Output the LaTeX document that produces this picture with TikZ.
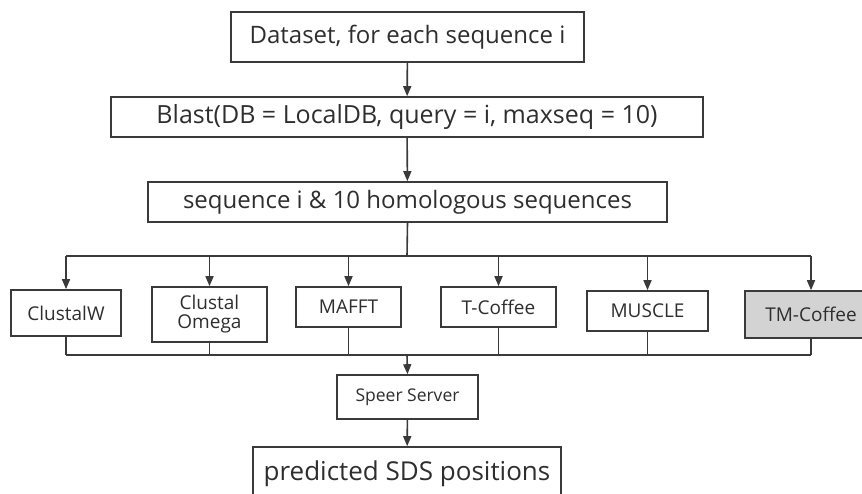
\documentclass[tikz,border=0pt]{standalone}
\usepackage{fontspec}
\setmainfont{Open Sans}
\usetikzlibrary{arrows.meta}
\definecolor{ln}{HTML}{3A3A3A}
\definecolor{tx}{HTML}{2E2E2E}
\definecolor{gr}{HTML}{D3D3D3}
\begin{document}
\begin{tikzpicture}[x=1pt,y=-1pt,
  box/.style={draw=ln,line width=1.6pt,rectangle,inner sep=0pt,text=tx,align=center},
  big/.style={box,font=\fontsize{24}{28}\selectfont},
  mod/.style={box,font=\fontsize{19}{22}\selectfont},
  conn/.style={draw=ln,line width=1.6pt},
  arr/.style={conn,-{Triangle[length=10pt,width=8pt]}}]
\useasboundingbox (0,0) rectangle (862,494);
\clip (0,0) rectangle (862,494);
\node[big,minimum width=353pt,minimum height=50pt] (ds) at (407.5,37) {Dataset, for each sequence i};
\node[big,font=\fontsize{25}{28}\selectfont,minimum width=592pt,minimum height=40pt] (bl) at (407,117) {Blast(DB = LocalDB, query = i, maxseq = 10)};
\node[big,minimum width=519pt,minimum height=40pt] (sq) at (407.5,202) {sequence i \& 10 homologous sequences};
\node[mod,minimum width=110pt,minimum height=46pt] (cw) at (66,313) {ClustalW};
\node[mod,minimum width=115pt,minimum height=55pt] (co) at (209.5,314.5) {Clustal\\[-3pt]Omega};
\node[mod,minimum width=105pt,minimum height=40pt] (ma) at (348.5,307) {MAFFT};
\node[mod,minimum width=115pt,minimum height=40pt] (tc) at (498.5,307) {T-Coffee};
\node[mod,minimum width=121pt,minimum height=40pt] (mu) at (647.5,311) {MUSCLE};
\node[mod,fill=gr,minimum width=132pt,minimum height=47pt] (tm) at (811,314.5) {TM-Coffee};
\node[box,font=\fontsize{17.5}{20}\selectfont,minimum width=141pt,minimum height=44pt] (sp) at (407.5,397) {Speer Server};
\node[box,font=\fontsize{26}{30}\selectfont,minimum width=308pt,minimum height=54pt] (pr) at (407,474) {predicted SDS positions};
\coordinate (tb) at (407,256);
\coordinate (bb) at (407,355);
\draw[arr] (ds) -- (bl);
\draw[arr] (bl) -- (sq);
\draw[conn] (sq.south) -- (tb);
\draw[conn] (cw.north |- tb) -- (tm.north |- tb);
\foreach \n in {cw,co,ma,tc,mu,tm}{
  \draw[arr] (\n.north |- tb) -- (\n.north);
  \draw[conn] (\n.south) -- (\n.south |- bb);
}
\draw[conn] (cw.south |- bb) -- (tm.south |- bb);
\draw[arr] (bb) -- (sp.north);
\draw[arr] (sp) -- (pr);
\end{tikzpicture}
\end{document}
